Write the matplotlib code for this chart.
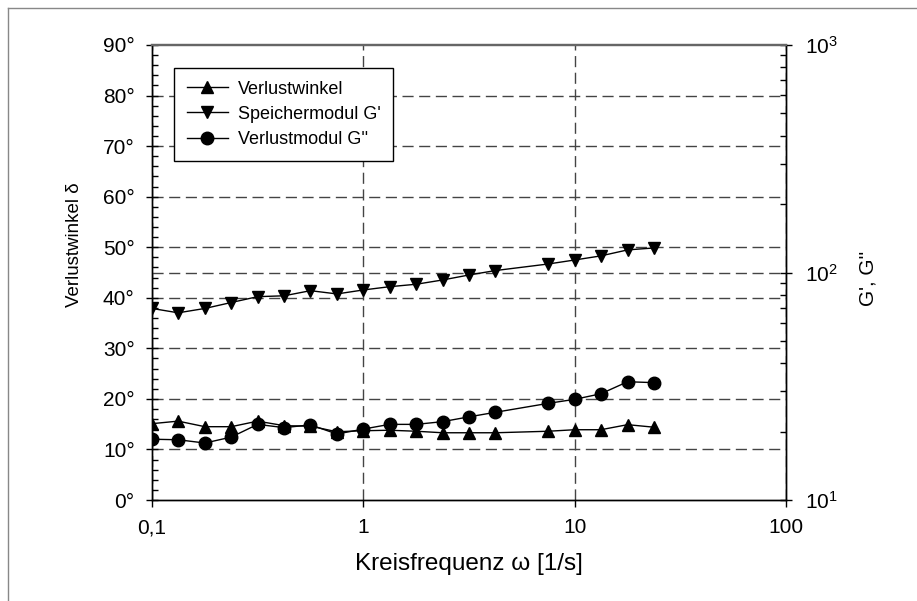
import matplotlib
matplotlib.use("Agg")
import matplotlib.pyplot as plt
from matplotlib.lines import Line2D
from matplotlib.ticker import FixedLocator, FuncFormatter, NullLocator, LogLocator, NullFormatter

plt.rcParams["font.family"] = ["Liberation Sans", "DejaVu Sans"]
plt.rcParams["mathtext.fontset"] = "custom"
plt.rcParams["mathtext.rm"] = "Liberation Sans"
plt.rcParams["mathtext.it"] = "Liberation Sans"

# Kreisfrequenz omega [1/s]
omega = [0.1, 0.133, 0.178, 0.237, 0.316, 0.422, 0.562, 0.750, 1.0, 1.33,
         1.78, 2.37, 3.16, 4.22, 7.50, 10.0, 13.3, 17.8, 23.7]
# Verlustwinkel delta [deg]
delta = [15.1, 15.6, 14.5, 14.5, 15.6, 14.7, 14.6, 13.5, 13.7, 13.8,
         13.6, 13.3, 13.3, 13.3, 13.6, 13.9, 13.9, 14.9, 14.4]
# Speichermodul G'
g_store = [69.5, 66.5, 69.5, 73.8, 78.3, 79.0, 83.2, 80.5, 83.8, 86.6,
           88.8, 92.7, 97.5, 102.0, 109.0, 113.5, 118.3, 125.7, 128.2]
# Verlustmodul G''
g_loss = [18.5, 18.4, 17.8, 18.9, 21.5, 20.8, 21.4, 19.5, 20.5, 21.5,
          21.5, 22.1, 23.2, 24.3, 26.6, 27.7, 29.3, 33.1, 32.8]

x_ticks = [0.1, 1, 10, 100]
x_labels = ["0,1", "1", "10", "100"]

fig = plt.figure(figsize=(9.17, 6.01), dpi=100)
ax = fig.add_axes([152 / 917, 101 / 601, 634 / 917, 455 / 601])
ax2 = ax.twinx()

grid_kw = dict(color="#444444", linestyle=(0, (8, 4)), linewidth=1.0)

ax.set_xscale("log")
ax.set_xlim(0.1, 100)
ax.set_ylim(0, 90)
ax.xaxis.set_major_locator(FixedLocator(x_ticks))
ax.xaxis.set_major_formatter(FuncFormatter(lambda v, p: x_labels[x_ticks.index(v)] if v in x_ticks else ""))
ax.xaxis.set_minor_locator(NullLocator())
ax.yaxis.set_major_locator(FixedLocator(range(0, 91, 10)))
ax.yaxis.set_minor_locator(FixedLocator([v for v in range(0, 91, 2) if v % 10]))
ax.yaxis.set_major_formatter(FuncFormatter(lambda v, p: f"{v:.0f}°"))
ax.tick_params(axis="y", which="major", direction="inout", length=9, width=1, labelsize=15, pad=8)
ax.tick_params(axis="y", which="minor", direction="in", length=4, width=1)
ax.tick_params(axis="x", which="major", direction="out", length=5, width=1, labelsize=15, pad=8)
ax.grid(True, axis="x", which="major", **grid_kw)
for yv in range(10, 90, 10):
    ax.axhline(yv, zorder=0.5, **grid_kw)

ax2.set_yscale("log")
ax2.set_ylim(10, 1000)
ax2.yaxis.set_major_locator(FixedLocator([10, 100, 1000]))
ax2.yaxis.set_minor_locator(LogLocator(base=10, subs=range(2, 10)))
ax2.yaxis.set_minor_formatter(NullFormatter())
ax2.tick_params(axis="y", which="major", direction="inout", length=9, width=1, labelsize=15, pad=9)
ax2.tick_params(axis="y", which="minor", direction="in", length=4, width=1)
ax2.axhline(100, zorder=0.5, **grid_kw)

for a in (ax, ax2):
    a.spines["top"].set_color("#666666")
    a.spines["top"].set_linewidth(1.6)
    for s in ("left", "right", "bottom"):
        a.spines[s].set_linewidth(1.0)

mk = dict(color="black", linewidth=1.0, markersize=9)
h1, = ax.plot(omega, delta, marker="^", label="Verlustwinkel", zorder=3, **mk)
h2, = ax2.plot(omega, g_store, marker="v", label="Speichermodul G'", zorder=3, **mk)
h3, = ax2.plot(omega, g_loss, marker="o", label="Verlustmodul G''", zorder=3, **mk)

ax.set_xlabel("Kreisfrequenz ω [1/s]", fontsize=17.5)
ax.xaxis.set_label_coords(0.5, -53 / 455)
ax.set_ylabel("Verlustwinkel δ", fontsize=13.5)
ax.yaxis.set_label_coords(-69 / 634, 255 / 455)
ax2.set_ylabel("G', G''", fontsize=15)
ax2.yaxis.set_label_coords(1 + 73 / 634, 222 / 455)

leg = ax2.legend(handles=[h1, h2, h3], loc="upper left", bbox_to_anchor=(22 / 634, 1 - 23 / 455),
                 fontsize=13, frameon=True, fancybox=False, framealpha=1, edgecolor="black",
                 handlelength=2.3, borderpad=0.7, labelspacing=0.45, handletextpad=0.55, borderaxespad=0)
leg.get_frame().set_linewidth(1.0)

fig.add_artist(Line2D([8 / 917, 8 / 917], [0, 1 - 8 / 601], transform=fig.transFigure, color="#888888", lw=1))
fig.add_artist(Line2D([8 / 917, 1], [1 - 8 / 601, 1 - 8 / 601], transform=fig.transFigure, color="#888888", lw=1))

fig.savefig("out.png", dpi=100)
